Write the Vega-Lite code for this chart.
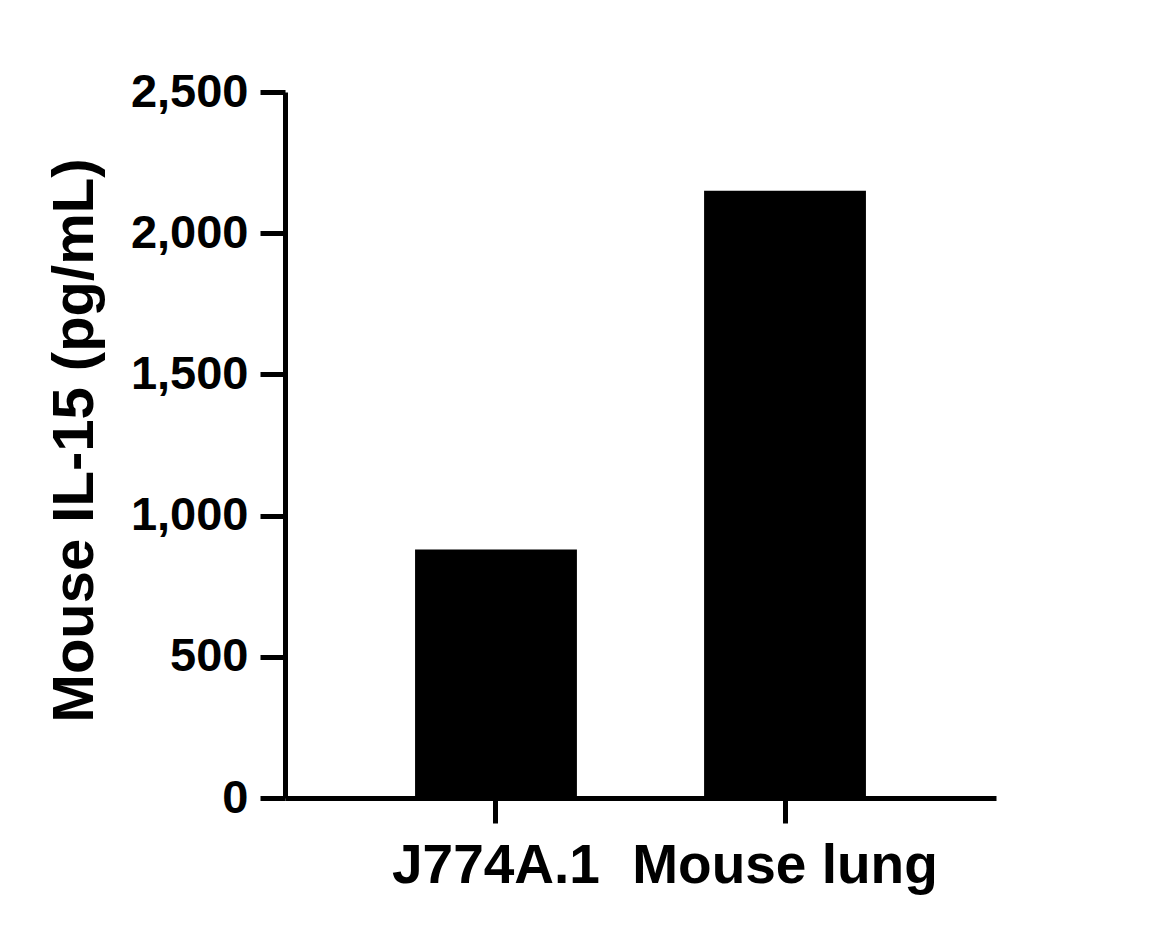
{
  "$schema": "https://vega.github.io/schema/vega-lite/v6.json",
  "width": 711,
  "height": 706,
  "autosize": {"type": "none"},
  "padding": {"left": 285, "top": 92, "right": 178, "bottom": 136},
  "background": "white",
  "config": {
    "view": {"stroke": null},
    "font": "Liberation Sans"
  },
  "data": {
    "values": [
      {"sample": "J774A.1", "value": 880},
      {"sample": "Mouse lung", "value": 2150}
    ]
  },
  "mark": {"type": "bar", "color": "black"},
  "encoding": {
    "x": {
      "field": "sample",
      "type": "nominal",
      "sort": null,
      "scale": {"paddingInner": 0.44, "paddingOuter": 0.45},
      "axis": {
        "title": null,
        "labelAngle": 0,
        "labelLimit": 0,
        "labelFont": "Liberation Sans",
        "labelFontSize": 55,
        "labelFontWeight": "bold",
        "labelColor": "black",
        "labelBaseline": "top",
        "labelPadding": 16,
        "labelOverlap": false,
        "tickSize": 25,
        "tickWidth": 5,
        "tickColor": "black",
        "domainWidth": 5,
        "domainColor": "black",
        "grid": false
      }
    },
    "y": {
      "field": "value",
      "type": "quantitative",
      "scale": {"domain": [0, 2500], "nice": false},
      "axis": {
        "title": "Mouse IL-15 (pg/mL)",
        "values": [0, 500, 1000, 1500, 2000, 2500],
        "format": ",d",
        "labelLimit": 0,
        "labelFont": "Liberation Sans",
        "labelFontSize": 47,
        "labelFontWeight": "bold",
        "labelColor": "black",
        "labelPadding": 12,
        "tickSize": 25,
        "tickWidth": 5,
        "tickColor": "black",
        "domainWidth": 5,
        "domainColor": "black",
        "grid": false,
        "titleFont": "Liberation Sans",
        "titleFontSize": 58,
        "titleFontWeight": "bold",
        "titleColor": "black",
        "titleX": -210,
        "titleY": 348,
        "titleAlign": "center",
        "titleBaseline": "middle",
        "titleAngle": 270
      }
    }
  }
}
